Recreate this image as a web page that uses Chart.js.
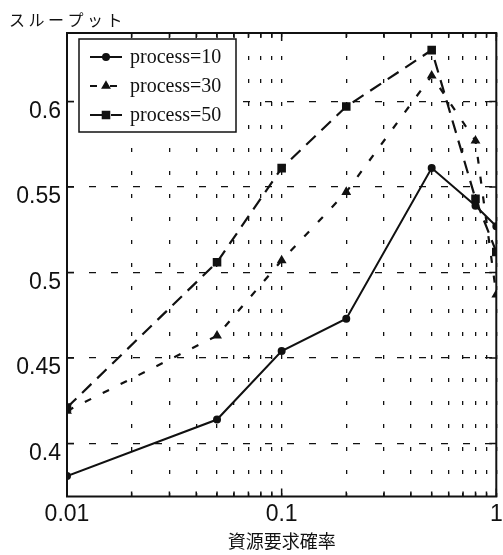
<!DOCTYPE html>
<html>
<head>
<meta charset="utf-8">
<script src="https://cdn.jsdelivr.net/npm/chart.js@4.4.1/dist/chart.umd.min.js"></script>
<style>
  html, body { margin: 0; padding: 0; background: #fff; }
</style>
</head>
<body>
<canvas id="grafikThroughput" width="503" height="555"></canvas>
<script>
// data
const probs = [0.01, 0.05, 0.1, 0.2, 0.5, 0.8, 1];
const proc10 = [0.381, 0.414, 0.454, 0.473, 0.561, 0.539, 0.527];
const proc30 = [0.419, 0.463, 0.507, 0.547, 0.615, 0.577, 0.487];
const proc50 = [0.421, 0.506, 0.561, 0.597, 0.630, 0.543, 0.512];
const seriesLabels = ['process=10', 'process=30', 'process=50'];
const yTicks = [0.4, 0.45, 0.5, 0.55, 0.6];
const yTickLabels = ['0.4', '0.45', '0.5', '0.55', '0.6'];
const xMajor = [0.01, 0.1, 1];
const xTickLabels = ['0.01', '0.1', '1'];
const yTitle = 'スループット';
const xTitle = '資源要求確率';

const ink = '#111';
const sans = "'Liberation Sans', Arial, sans-serif";
const cjk = "'Noto Sans CJK JP', sans-serif";

// minor log grid positions 0.01..0.09, 0.1..0.9, 1
const gridTicks = [];
xMajor.forEach((m, i) => {
    if (i === xMajor.length - 1) { gridTicks.push(m); return; }
    for (let k = 1; k < 10; k++) gridTicks.push(+(m * k).toPrecision(6));
});

const pairs = (ys) => probs.map((p, i) => ({ x: p, y: ys[i] }));
const near = (a, b) => Math.abs(a - b) < 1e-9;

const frameAndLegend = {
    id: 'frameAndLegend',
    afterDraw(chart) {
        const { ctx, chartArea: a, scales: { x, y } } = chart;
        ctx.save();
        // frame
        ctx.strokeStyle = ink;
        ctx.lineWidth = 2;
        ctx.setLineDash([]);
        ctx.strokeRect(a.left, a.top, a.right - a.left, a.bottom - a.top);

        // inner ticks
        ctx.lineWidth = 1.5;
        ctx.beginPath();
        gridTicks.forEach(v => {
            const px = x.getPixelForValue(v);
            const len = xMajor.some(m => near(m, v)) ? 8 : 5;
            ctx.moveTo(px, a.bottom); ctx.lineTo(px, a.bottom - len);
            ctx.moveTo(px, a.top); ctx.lineTo(px, a.top + len);
        });
        yTicks.forEach(v => {
            const py = y.getPixelForValue(v);
            ctx.moveTo(a.left, py); ctx.lineTo(a.left + 7, py);
            ctx.moveTo(a.right, py); ctx.lineTo(a.right - 7, py);
        });
        ctx.stroke();

        // y title above the axis
        ctx.fillStyle = ink;
        ctx.font = '16px ' + cjk;
        ctx.letterSpacing = '3.5px';
        ctx.textBaseline = 'middle';
        ctx.textAlign = 'left';
        ctx.fillText(yTitle, 9, 20);
        ctx.letterSpacing = '0px';

        // legend box inside the plot
        const bx = 79, by = 39, bw = 157, bh = 93;
        ctx.fillStyle = '#fff';
        ctx.fillRect(bx, by, bw, bh);
        ctx.lineWidth = 1.5;
        ctx.strokeRect(bx, by, bw, bh);
        ctx.font = "20px 'Liberation Serif', 'Times New Roman', serif";
        chart.data.datasets.forEach((ds, i) => {
            const ly = 57 + i * 29;
            ctx.strokeStyle = ink;
            ctx.lineWidth = ds.borderWidth;
            ctx.setLineDash(ds.borderDash || []);
            ctx.beginPath();
            ctx.moveTo(90, ly); ctx.lineTo(122, ly);
            ctx.stroke();
            ctx.setLineDash([]);
            ctx.fillStyle = ink;
            Chart.helpers.drawPoint(ctx, {
                pointStyle: ds.pointStyle, radius: ds.pointRadius, rotation: 0, borderWidth: 1
            }, 106, ly);
            ctx.fillStyle = ink;
            ctx.fillText(ds.label, 130, ly + 1);
        });
        ctx.restore();
    }
};

const ctx = document.getElementById('grafikThroughput').getContext('2d');
const grafikThroughput = new Chart(ctx, {
    type: 'line',
    data: {
        datasets: [{
            label: seriesLabels[0],
            data: pairs(proc10),
            borderColor: ink,
            backgroundColor: ink,
            borderWidth: 2,
            pointStyle: 'circle',
            pointRadius: 3,
            tension: 0
        },
        {
            label: seriesLabels[1],
            data: pairs(proc30),
            borderColor: ink,
            backgroundColor: ink,
            borderWidth: 2.2,
            borderDash: [7, 13],
            pointStyle: 'triangle',
            pointRadius: 3.5,
            tension: 0
        },
        {
            label: seriesLabels[2],
            data: pairs(proc50),
            borderColor: ink,
            backgroundColor: ink,
            borderWidth: 2.2,
            borderDash: [13, 8],
            pointStyle: 'rect',
            pointRadius: 4.5,
            tension: 0
        }]
    },
    options: {
        responsive: false,
        animation: false,
        layout: { padding: { top: 33, right: 1, left: 0, bottom: 0 } },
        plugins: {
            legend: { display: false },
            tooltip: { enabled: false }
        },
        scales: {
            x: {
                type: 'logarithmic',
                min: 0.01,
                max: 1,
                afterBuildTicks: (s) => { s.ticks = gridTicks.map(v => ({ value: v })); },
                afterFit: (s) => { s.height = 58.5; s.paddingLeft = 0; s.paddingRight = 0; },
                grid: { color: ink, lineWidth: 1.3, drawTicks: false },
                border: { display: false, dash: [4, 19] },
                ticks: {
                    autoSkip: false,
                    maxRotation: 0,
                    padding: 4,
                    color: ink,
                    font: { family: sans, size: 23 },
                    callback: (v) => {
                        const i = xMajor.findIndex(m => near(m, v));
                        return i >= 0 ? xTickLabels[i] : '';
                    }
                },
                title: {
                    display: true,
                    text: xTitle,
                    color: ink,
                    font: { family: cjk, size: 18 },
                    padding: { top: 0, bottom: 3 }
                }
            },
            y: {
                min: 0.369,
                max: 0.640,
                afterBuildTicks: (s) => { s.ticks = yTicks.map(v => ({ value: v })); },
                afterFit: (s) => { s.width = 67; s.paddingTop = 0; s.paddingBottom = 0; },
                grid: { color: ink, lineWidth: 1.3, drawTicks: false },
                border: { display: false, dash: [7, 15] },
                ticks: {
                    padding: 6,
                    labelOffset: 10,
                    color: ink,
                    font: { family: sans, size: 23 },
                    callback: (v) => {
                        const i = yTicks.findIndex(t => near(t, v));
                        return i >= 0 ? yTickLabels[i] : '';
                    }
                }
            }
        }
    },
    plugins: [frameAndLegend]
});
</script>
</body>
</html>
